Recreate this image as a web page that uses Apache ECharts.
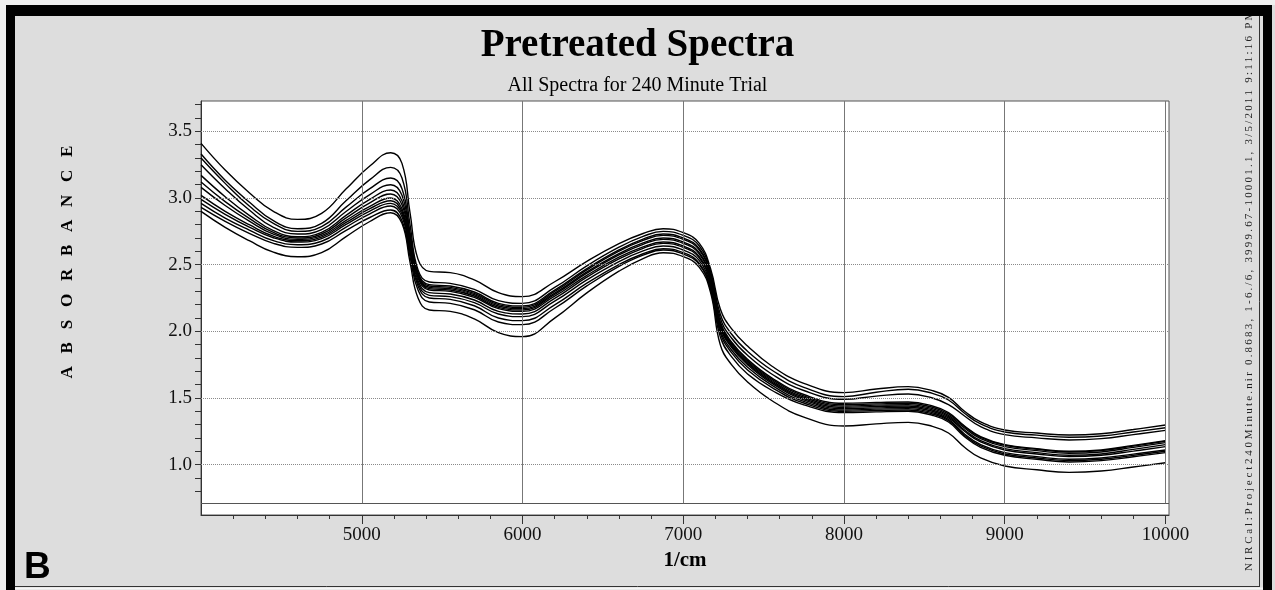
<!DOCTYPE html>
<html>
<head>
<meta charset="utf-8">
<script src="https://cdn.jsdelivr.net/npm/echarts@6/dist/echarts.min.js"></script>
<style>
html,body{margin:0;padding:0;background:#dddddd;}
#chart{width:1275px;height:590px;}
</style>
</head>
<body>
<div id="chart"></div>
<script>
// ---- data ----
const wavenumbers = [4000, 4150, 4300, 4450, 4600, 4750, 4900, 5050, 5180, 5250, 5300, 5350, 5420, 5550, 5700, 5850, 6000, 6200, 6400, 6600, 6750, 6875, 7000, 7100, 7170, 7230, 7300, 7400, 7550, 7750, 8000, 8200, 8400, 8550, 8650, 8750, 8850, 9000, 9200, 9400, 9600, 9800, 10000];

const spectrum01 = [3.41, 3.21, 3.04, 2.90, 2.84, 2.885, 3.065, 3.24, 3.34, 3.26, 2.89, 2.54, 2.45, 2.44, 2.386, 2.29, 2.26, 2.372, 2.525, 2.658, 2.734, 2.77, 2.74, 2.66, 2.47, 2.17, 2.02, 1.89, 1.74, 1.61, 1.54, 1.567, 1.585, 1.555, 1.505, 1.40, 1.32, 1.26, 1.237, 1.222, 1.232, 1.263, 1.297];
const spectrum02 = [3.33, 3.134, 2.97, 2.83, 2.77, 2.81, 2.977, 3.138, 3.23, 3.15, 2.80, 2.46, 2.37, 2.36, 2.315, 2.23, 2.21, 2.329, 2.491, 2.631, 2.712, 2.75, 2.72, 2.64, 2.45, 2.13, 1.98, 1.85, 1.71, 1.58, 1.51, 1.543, 1.565, 1.535, 1.485, 1.385, 1.305, 1.245, 1.221, 1.205, 1.215, 1.245, 1.277];
const spectrum03 = [3.30, 3.11, 2.94, 2.81, 2.75, 2.786, 2.93, 3.07, 3.15, 3.07, 2.745, 2.44, 2.35, 2.34, 2.295, 2.21, 2.19, 2.309, 2.471, 2.611, 2.692, 2.73, 2.70, 2.62, 2.43, 2.10, 1.95, 1.82, 1.68, 1.556, 1.49, 1.514, 1.53, 1.50, 1.45, 1.365, 1.285, 1.225, 1.201, 1.185, 1.195, 1.225, 1.257];
const spectrum04 = [3.25, 3.07, 2.91, 2.78, 2.73, 2.763, 2.897, 3.026, 3.10, 3.02, 2.715, 2.43, 2.34, 2.33, 2.285, 2.20, 2.18, 2.299, 2.461, 2.601, 2.682, 2.72, 2.69, 2.61, 2.42, 2.07, 1.92, 1.79, 1.651, 1.526, 1.46, 1.466, 1.47, 1.44, 1.39, 1.29, 1.21, 1.15, 1.12, 1.10, 1.11, 1.144, 1.18];
const spectrum05 = [3.17, 3.01, 2.87, 2.756, 2.71, 2.742, 2.868, 2.99, 3.06, 2.98, 2.69, 2.42, 2.33, 2.32, 2.275, 2.19, 2.17, 2.287, 2.446, 2.583, 2.663, 2.70, 2.67, 2.59, 2.40, 2.06, 1.91, 1.78, 1.641, 1.516, 1.45, 1.456, 1.46, 1.43, 1.38, 1.285, 1.205, 1.145, 1.115, 1.095, 1.105, 1.139, 1.175];
const spectrum06 = [3.12, 2.973, 2.847, 2.742, 2.70, 2.73, 2.849, 2.964, 3.03, 2.95, 2.67, 2.41, 2.32, 2.31, 2.265, 2.18, 2.16, 2.277, 2.436, 2.573, 2.653, 2.69, 2.66, 2.58, 2.39, 2.05, 1.90, 1.77, 1.631, 1.506, 1.44, 1.446, 1.45, 1.42, 1.37, 1.275, 1.195, 1.135, 1.105, 1.085, 1.095, 1.129, 1.165];
const spectrum07 = [3.08, 2.944, 2.827, 2.729, 2.69, 2.718, 2.83, 2.938, 3.00, 2.92, 2.65, 2.40, 2.31, 2.30, 2.255, 2.17, 2.15, 2.264, 2.42, 2.556, 2.634, 2.67, 2.64, 2.56, 2.37, 2.04, 1.89, 1.76, 1.621, 1.496, 1.43, 1.436, 1.44, 1.41, 1.36, 1.26, 1.18, 1.12, 1.09, 1.07, 1.08, 1.114, 1.15];
const spectrum08 = [3.02, 2.90, 2.80, 2.714, 2.68, 2.707, 2.815, 2.92, 2.98, 2.90, 2.63, 2.38, 2.29, 2.28, 2.235, 2.15, 2.13, 2.247, 2.406, 2.543, 2.623, 2.66, 2.63, 2.55, 2.36, 2.03, 1.88, 1.75, 1.611, 1.486, 1.42, 1.426, 1.43, 1.40, 1.35, 1.25, 1.17, 1.11, 1.08, 1.06, 1.07, 1.101, 1.135];
const spectrum09 = [2.99, 2.878, 2.782, 2.702, 2.67, 2.696, 2.80, 2.902, 2.96, 2.88, 2.61, 2.36, 2.27, 2.26, 2.215, 2.13, 2.11, 2.227, 2.386, 2.523, 2.603, 2.64, 2.61, 2.53, 2.34, 2.01, 1.86, 1.73, 1.596, 1.474, 1.41, 1.416, 1.42, 1.39, 1.34, 1.23, 1.15, 1.09, 1.06, 1.04, 1.05, 1.079, 1.11];
const spectrum10 = [2.96, 2.85, 2.76, 2.68, 2.65, 2.676, 2.78, 2.882, 2.94, 2.86, 2.59, 2.34, 2.25, 2.24, 2.192, 2.10, 2.08, 2.199, 2.361, 2.501, 2.582, 2.62, 2.59, 2.51, 2.32, 1.99, 1.84, 1.71, 1.58, 1.462, 1.40, 1.406, 1.41, 1.38, 1.33, 1.22, 1.14, 1.08, 1.05, 1.03, 1.04, 1.069, 1.10];
const spectrum11 = [2.93, 2.825, 2.735, 2.66, 2.63, 2.655, 2.756, 2.854, 2.91, 2.83, 2.56, 2.31, 2.22, 2.21, 2.162, 2.07, 2.05, 2.173, 2.341, 2.487, 2.571, 2.61, 2.58, 2.50, 2.31, 1.96, 1.81, 1.68, 1.558, 1.448, 1.39, 1.396, 1.40, 1.37, 1.32, 1.21, 1.13, 1.07, 1.04, 1.02, 1.03, 1.059, 1.09];
const spectrum12 = [2.90, 2.78, 2.68, 2.594, 2.56, 2.59, 2.709, 2.824, 2.89, 2.81, 2.52, 2.25, 2.16, 2.15, 2.093, 1.99, 1.96, 2.099, 2.288, 2.451, 2.546, 2.59, 2.56, 2.48, 2.29, 1.90, 1.75, 1.62, 1.481, 1.356, 1.29, 1.306, 1.317, 1.287, 1.237, 1.13, 1.05, 0.99, 0.961, 0.942, 0.952, 0.982, 1.014];

const spectra = [spectrum01, spectrum02, spectrum03, spectrum04, spectrum05, spectrum06,
                 spectrum07, spectrum08, spectrum09, spectrum10, spectrum11, spectrum12];

// ---- axes / tick values ----
const xMin = 3999.67, xMax = 10022;
const yMin = 0.622, yMax = 3.728;
const yFloor = 0.71;                       // inner frame line above the x axis
const xLabelValues = [5000, 6000, 7000, 8000, 9000, 10000];
const xMinorTickValues = [4200, 4400, 4600, 4800, 5200, 5400, 5600, 5800, 6200, 6400, 6600, 6800,
                          7200, 7400, 7600, 7800, 8200, 8400, 8600, 8800, 9200, 9400, 9600, 9800];
const yLabelValues = [1.0, 1.5, 2.0, 2.5, 3.0, 3.5];
const yTickValues = [0.8, 0.9, 1.0, 1.1, 1.2, 1.3, 1.4, 1.5, 1.6, 1.7, 1.8, 1.9, 2.0, 2.1, 2.2, 2.3,
                     2.4, 2.5, 2.6, 2.7, 2.8, 2.9, 3.0, 3.1, 3.2, 3.3, 3.4, 3.5, 3.6, 3.7];

const titleText = 'Pretreated Spectra';
const subtitleText = 'All Spectra for 240 Minute Trial';
const xName = '1/cm';
const yName = 'A   B   S   O   R   B   A   N   C   E';
const panelLetter = 'B';
const stampHead = 'N I R C a l : P r o j e c t 2 4 0 M';
const stampTail = 'inute.nir 0.8683, 1-6./6, 3999.67-10001.1, 3/5/2011 9:11:16 PM';

const SERIF = "'Liberation Serif','Times New Roman',serif";

const chart = echarts.init(document.getElementById('chart'), null, {renderer: 'canvas'});

const gridPos = {left: 201, top: 101, width: 968, height: 414};

const gridMarks = [];
yLabelValues.forEach(v => gridMarks.push({yAxis: v, lineStyle: {color: '#8a8a8a', type: [1, 1], width: 1}}));
gridMarks.push({yAxis: yFloor, lineStyle: {color: '#555', type: 'solid', width: 1}});
xLabelValues.forEach(v => gridMarks.push([{coord: [v, yFloor]}, {coord: [v, yMax]}]));

const series = spectra.map((s, k) => ({
  type: 'line',
  name: 'spectrum ' + (k + 1),
  xAxisIndex: 0, yAxisIndex: 0,
  data: wavenumbers.map((w, i) => [w, s[i]]),
  showSymbol: false, symbol: 'none',
  smooth: 0.45,
  lineStyle: {color: '#000', width: 1.4},
  z: 3, silent: true, animation: false
}));
series.push({
  type: 'line', xAxisIndex: 1, yAxisIndex: 1, data: [], z: 2, silent: true, animation: false,
  markLine: {
    silent: true, symbol: ['none', 'none'], label: {show: false}, animation: false,
    lineStyle: {color: '#777', type: 'solid', width: 1},
    emphasis: {disabled: true},
    data: gridMarks
  }
});

// stamp text: the tail is printed letter-spaced in the reference
const stampDisplay = stampHead + ' ' + stampTail.split('').join('\u2009');

const option = {
  backgroundColor: '#dddddd',
  animation: false,
  title: [
    {text: titleText, left: 'center', top: 26, padding: 0,
     textStyle: {fontFamily: SERIF, fontWeight: 'bold', fontSize: 39, color: '#000'}},
    {text: subtitleText, left: 'center', top: 76, padding: 0,
     textStyle: {fontFamily: SERIF, fontWeight: 'normal', fontSize: 20, color: '#000'}}
  ],
  grid: [
    Object.assign({show: true, backgroundColor: '#ffffff', borderColor: '#555', borderWidth: 1, containLabel: false, outerBoundsMode: 'none'}, gridPos),
    Object.assign({show: false, containLabel: false, outerBoundsMode: 'none'}, gridPos)
  ],
  xAxis: [
    {type: 'value', gridIndex: 0, min: xMin, max: xMax, position: 'bottom',
     axisLine: {show: true, onZero: false, lineStyle: {color: '#333', width: 1}},
     axisTick: {show: true, customValues: xLabelValues, length: 9, lineStyle: {color: '#333'}},
     axisLabel: {show: true, customValues: xLabelValues, margin: 11, fontFamily: SERIF, fontSize: 19, color: '#111',
                 formatter: v => String(Math.round(v))},
     splitLine: {show: false},
     name: xName, nameLocation: 'middle', nameGap: 35,
     nameTextStyle: {fontFamily: SERIF, fontWeight: 'bold', fontSize: 21, color: '#000'}},
    {type: 'value', gridIndex: 1, min: xMin, max: xMax, position: 'bottom',
     axisLine: {show: false},
     axisTick: {show: true, customValues: xMinorTickValues, length: 4, lineStyle: {color: '#333'}},
     axisLabel: {show: false},
     splitLine: {show: false}}
  ],
  yAxis: [
    {type: 'value', gridIndex: 0, min: yMin, max: yMax, position: 'left',
     axisLine: {show: true, onZero: false, lineStyle: {color: '#333', width: 1}},
     axisTick: {show: true, customValues: yTickValues, length: 6, lineStyle: {color: '#333'}},
     axisLabel: {show: true, customValues: yLabelValues, margin: 9, fontFamily: SERIF, fontSize: 19, color: '#111',
                 formatter: v => Number(v).toFixed(1)},
     splitLine: {show: false}},
    {type: 'value', gridIndex: 1, min: yMin, max: yMax, show: false}
  ],
  series: series,
  graphic: [
    {type: 'text', x: 68, y: 262, rotation: Math.PI / 2, z: 10,
     style: {text: yName, fontFamily: SERIF, fontWeight: 'bold', fontSize: 17, fill: '#000', align: 'center', verticalAlign: 'middle'}},
    {type: 'text', x: 24, y: 568, z: 10,
     style: {text: panelLetter, fontFamily: "'Liberation Sans',Arial,sans-serif", fontWeight: 'bold', fontSize: 37, fill: '#000', align: 'left', verticalAlign: 'middle'}},
    {type: 'text', x: 1249, y: 571, rotation: Math.PI / 2, z: 10,
     style: {text: stampDisplay, fontFamily: SERIF, fontSize: 11, fill: '#222', align: 'left', verticalAlign: 'middle'}},
    // frame
    {type: 'rect', z: 20, shape: {x: 0, y: 0, width: 1275, height: 5}, style: {fill: '#efefef'}},
    {type: 'rect', z: 20, shape: {x: 0, y: 0, width: 6, height: 590}, style: {fill: '#efefef'}},
    {type: 'rect', z: 21, shape: {x: 6, y: 5, width: 1266, height: 11}, style: {fill: '#000'}},
    {type: 'rect', z: 21, shape: {x: 6, y: 5, width: 9, height: 585}, style: {fill: '#000'}},
    {type: 'rect', z: 21, shape: {x: 1263, y: 5, width: 9, height: 585}, style: {fill: '#000'}},
    {type: 'line', z: 21, shape: {x1: 1259.5, y1: 16, x2: 1259.5, y2: 587}, style: {stroke: '#333', lineWidth: 1}},
    {type: 'line', z: 21, shape: {x1: 15, y1: 586.5, x2: 1260, y2: 586.5}, style: {stroke: '#333', lineWidth: 1}},
    {type: 'line', z: 21, shape: {x1: 15, y1: 588.5, x2: 1263, y2: 588.5}, style: {stroke: '#f6f6f6', lineWidth: 2}}
  ]
};

chart.setOption(option);
</script>
</body>
</html>
